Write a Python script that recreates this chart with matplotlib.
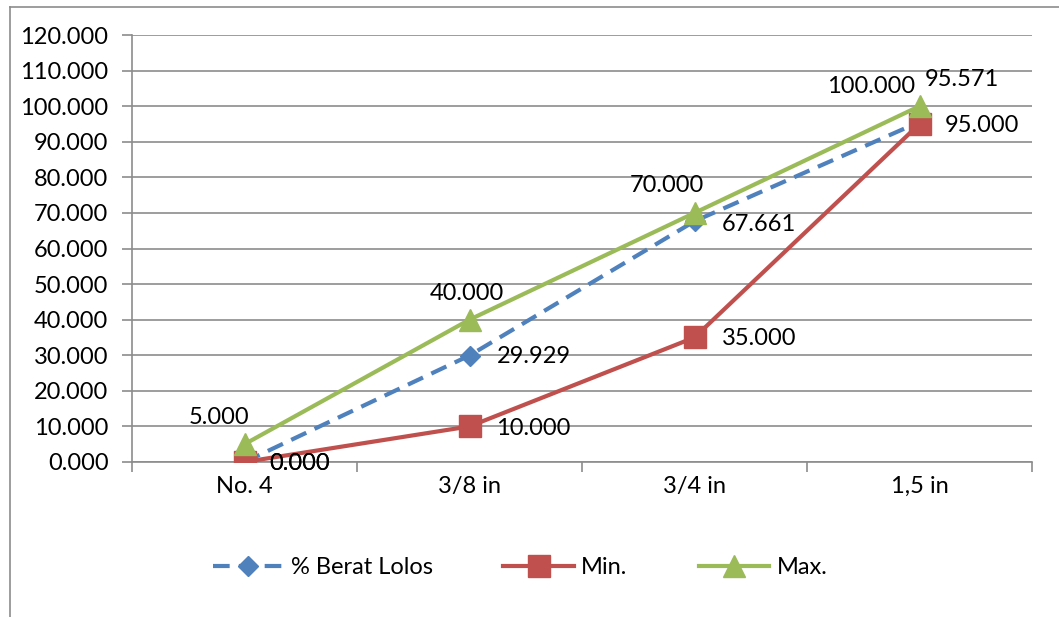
import matplotlib
matplotlib.use("Agg")
import matplotlib.pyplot as plt
from matplotlib.lines import Line2D

plt.rcParams['font.family'] = ['Lato', 'DejaVu Sans']

categories = ["No. 4", "3/8 in", "3/4 in", "1,5 in"]
berat_lolos = [0.000, 29.929, 67.661, 95.571]
batas_min = [0.000, 10.000, 35.000, 95.000]
batas_max = [5.000, 40.000, 70.000, 100.000]
y_ticks = [0, 10, 20, 30, 40, 50, 60, 70, 80, 90, 100, 110, 120]

BLUE = "#4F81BD"
RED = "#C0504D"
GREEN = "#9BBB59"
GRID = "#8C8C8C"
FS = 17

fig = plt.figure(figsize=(10.59, 6.17), dpi=100)
W, H = 1059, 617
ax = fig.add_axes([132 / W, 1 - 462 / H, 900 / W, 427 / H])

x = list(range(len(categories)))

ax.plot(x, berat_lolos, color=BLUE, lw=3, ls=(0, (4, 2.2)),
        marker="D", ms=10, mfc=BLUE, mec=BLUE, zorder=3, label="% Berat Lolos")
ax.plot(x, batas_min, color=RED, lw=3, marker="s", ms=16,
        mfc=RED, mec=RED, zorder=4, label="Min.")
ax.plot(x, batas_max, color=GREEN, lw=3, marker="^", ms=16,
        mfc=GREEN, mec=GREEN, zorder=5, label="Max.")

# data labels (pixel offsets from each point)
max_off = [(-25, 27), (-3, 26), (-28, 27), (-48, 20)]
blue_off = [(25, -1), (27, -1), (27, -3), (5, 42)]
red_off = [(25, -1), (27, -2), (27, -1), (25, -2)]

for xi, v, off in zip(x, batas_max, max_off):
    ax.annotate(f"{v:.3f}", (xi, v), xytext=off, textcoords="offset pixels",
                ha="center", va="center", fontsize=FS, zorder=6)
for xi, v, off in zip(x, berat_lolos, blue_off):
    ax.annotate(f"{v:.3f}", (xi, v), xytext=off, textcoords="offset pixels",
                ha="left", va="center", fontsize=FS, zorder=6)
for xi, v, off in zip(x, batas_min, red_off):
    ax.annotate(f"{v:.3f}", (xi, v), xytext=off, textcoords="offset pixels",
                ha="left", va="center", fontsize=FS, zorder=6)

ax.set_xlim(-0.5, len(categories) - 0.5)
ax.set_ylim(0, 120)
ax.set_yticks(y_ticks)
ax.set_yticklabels([f"{t:.3f}" for t in y_ticks], fontsize=FS)
ax.set_xticks(x)
ax.set_xticklabels(categories, fontsize=FS)
ax.set_xticks([i - 0.5 for i in range(len(categories) + 1)], minor=True)
ax.tick_params(axis="x", which="major", length=0, pad=10)
ax.tick_params(axis="x", which="minor", length=7, width=1.2, color=GRID, direction="out")
ax.tick_params(axis="y", length=7, width=1.2, color=GRID, direction="out", pad=10)

ax.yaxis.grid(True, color=GRID, lw=1.2)
ax.set_axisbelow(True)
for s in ["top", "right"]:
    ax.spines[s].set_visible(False)
for s in ["left", "bottom"]:
    ax.spines[s].set_color(GRID)
    ax.spines[s].set_linewidth(1.2)

leg = fig.legend(loc="center", bbox_to_anchor=(520 / W, 1 - 568 / H), ncol=3,
                 frameon=False, fontsize=FS, handlelength=3.0,
                 handletextpad=0.3, columnspacing=3.0)

# outer chart border
fig.add_artist(Line2D([10 / W, 10 / W], [0, 1 - 7 / H], transform=fig.transFigure,
                      color="#8C8C8C", lw=1.2))
fig.add_artist(Line2D([10 / W, 1], [1 - 7 / H, 1 - 7 / H], transform=fig.transFigure,
                      color="#8C8C8C", lw=1.2))

fig.savefig("out.png", dpi=100)
